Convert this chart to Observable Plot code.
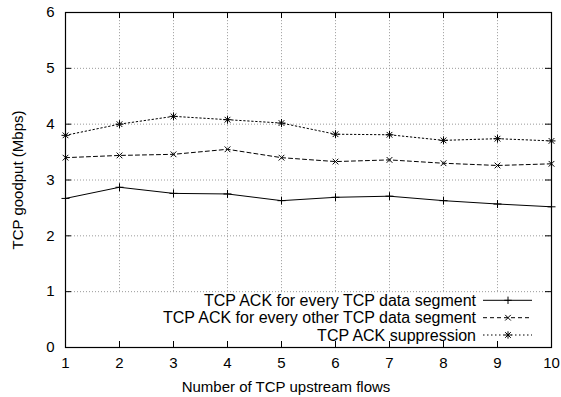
<!DOCTYPE html>
<html>
<head>
<meta charset="utf-8">
<script src="https://cdn.jsdelivr.net/npm/d3@7"></script>
<script src="https://cdn.jsdelivr.net/npm/@observablehq/plot@0.6"></script>
<style>
  html, body { margin: 0; padding: 0; background: white; }
</style>
</head>
<body>
<div id="chart"></div>
<script>
const flows = [1, 2, 3, 4, 5, 6, 7, 8, 9, 10];
const ackEvery = [2.67, 2.87, 2.76, 2.75, 2.63, 2.69, 2.71, 2.63, 2.57, 2.52];
const ackEveryOther = [3.40, 3.44, 3.46, 3.55, 3.40, 3.33, 3.36, 3.30, 3.26, 3.29];
const ackSuppression = [3.80, 4.00, 4.14, 4.08, 4.02, 3.82, 3.81, 3.71, 3.74, 3.70];
const seriesNames = [
  "TCP ACK for every TCP data segment",
  "TCP ACK for every other TCP data segment",
  "TCP ACK suppression"
];
const xTicks = [1, 2, 3, 4, 5, 6, 7, 8, 9, 10];
const yTicks = [0, 1, 2, 3, 4, 5, 6];
const xLabel = "Number of TCP upstream flows";
const yLabel = "TCP goodput (Mbps)";

const seriesValues = [ackEvery, ackEveryOther, ackSuppression];
const rows = seriesNames.flatMap((name, i) =>
  flows.map((x, j) => ({series: name, x, y: seriesValues[i][j]})));
const dataOf = i => rows.filter(d => d.series === seriesNames[i]);

const W = 561, H = 397, mL = 65, mR = 10, mT = 12, mB = 50;
const pw = W - mL - mR, ph = H - mT - mB;
const tick = 6;
const font = "'Liberation Sans', Arial, Helvetica, sans-serif";
const dashes = [null, "4,3", "1.5,2.5"];
const gridStyle = {stroke: "#9a9a9a", strokeDasharray: "1,2", strokeWidth: 1};

const svg = Plot.plot({
  width: W, height: H,
  marginLeft: mL, marginRight: mR, marginTop: mT, marginBottom: mB,
  style: {fontFamily: font, fontSize: "15px", color: "black", background: "white"},
  x: {domain: [1, 10]},
  y: {domain: [0, 6]},
  marks: [
    Plot.ruleY(yTicks.slice(1, -1), gridStyle),
    Plot.ruleX(xTicks.slice(1, -1), {...gridStyle, y1: yTicks[1], y2: yTicks[yTicks.length - 1]}),
    Plot.ruleX(xTicks, {stroke: "black", insetTop: ph - tick}),
    Plot.ruleX(xTicks, {stroke: "black", insetBottom: ph - tick}),
    Plot.ruleY(yTicks, {stroke: "black", insetRight: pw - tick}),
    Plot.ruleY(yTicks, {stroke: "black", insetLeft: pw - tick}),
    Plot.axisX({ticks: xTicks, tickSize: 0, tickPadding: 10, label: null, fontSize: 15, tickFormat: d => String(d)}),
    Plot.axisY({ticks: yTicks, tickSize: 0, tickPadding: 11, label: null, fontSize: 15, tickFormat: d => String(d)}),
    ...seriesNames.map((n, i) => Plot.line(dataOf(i), {x: "x", y: "y", stroke: "black", strokeWidth: 1, strokeDasharray: dashes[i]})),
    Plot.dot(dataOf(0), {x: "x", y: "y", symbol: "plus", r: 2.7, stroke: "black", strokeWidth: 1}),
    Plot.dot(dataOf(1), {x: "x", y: "y", symbol: "times", r: 2.7, stroke: "black", strokeWidth: 1}),
    Plot.dot(dataOf(2), {x: "x", y: "y", symbol: "plus", r: 2.7, stroke: "black", strokeWidth: 1}),
    Plot.dot(dataOf(2), {x: "x", y: "y", symbol: "times", r: 2.7, stroke: "black", strokeWidth: 1}),
    Plot.frame({stroke: "black", strokeWidth: 1.2})
  ]
});

const g = d3.select(svg);
// axis titles
g.append("text").attr("x", 286).attr("y", 387).attr("dy", "0.35em")
  .attr("text-anchor", "middle").attr("font-size", 15).attr("font-family", font)
  .attr("fill", "black").text(xLabel);
g.append("text").attr("transform", "translate(18,180) rotate(-90)").attr("dy", "0.35em")
  .attr("text-anchor", "middle").attr("font-size", 15).attr("font-family", font)
  .attr("fill", "black").text(yLabel);

// legend
const legY = [300.3, 317.7, 335];
const sym = {
  plus: (s) => `M${-s},0H${s}M0,${-s}V${s}`,
  times: (s) => `M${-s},${-s}L${s},${s}M${-s},${s}L${s},${-s}`
};
const legSyms = [["plus"], ["times"], ["plus", "times"]];
seriesNames.forEach((name, i) => {
  const y = legY[i];
  g.append("text").attr("x", 476).attr("y", y).attr("dy", "0.35em")
    .attr("text-anchor", "end").attr("font-size", 16).attr("font-family", font)
    .attr("fill", "black").text(name);
  g.append("line").attr("x1", 483).attr("x2", 532).attr("y1", y).attr("y2", y)
    .attr("stroke", "black").attr("stroke-width", 1)
    .attr("stroke-dasharray", dashes[i]);
  legSyms[i].forEach(s => {
    g.append("path").attr("transform", `translate(508,${y})`)
      .attr("d", s === "plus" ? sym.plus(3.7) : sym.times(2.8))
      .attr("stroke", "black").attr("fill", "none").attr("stroke-width", 1);
  });
});

document.getElementById("chart").appendChild(svg);
</script>
</body>
</html>
